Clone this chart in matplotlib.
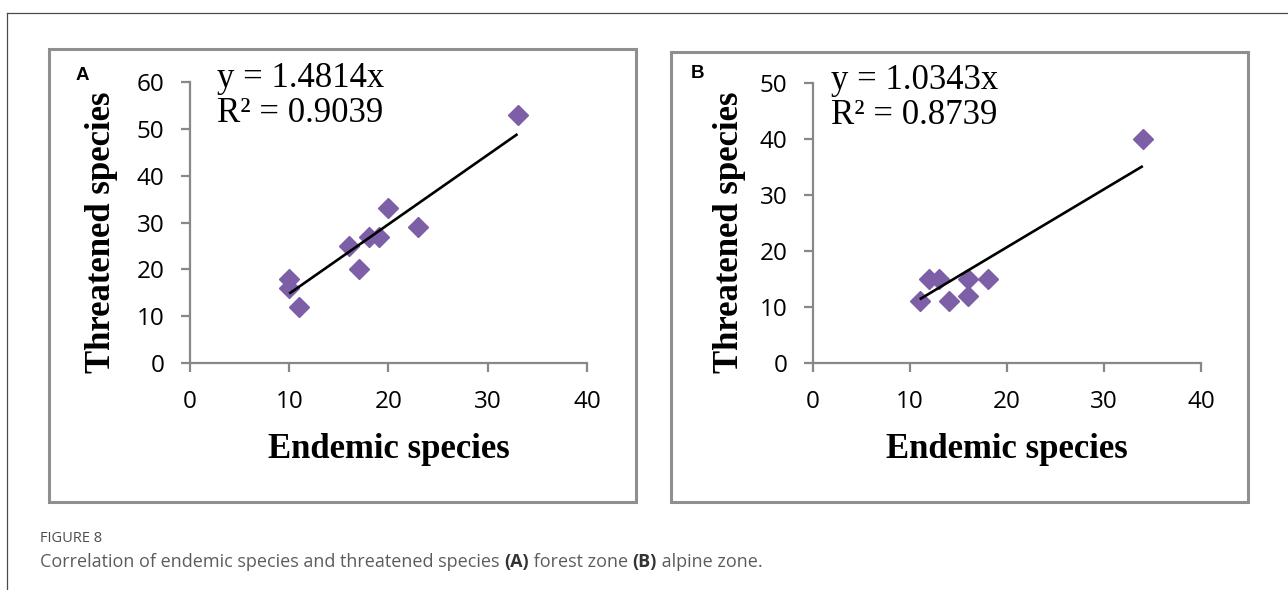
import matplotlib
matplotlib.use("Agg")
import matplotlib.pyplot as plt
from matplotlib.lines import Line2D
from matplotlib.patches import Rectangle

# ---------------------------------------------------------------
# Data
# ---------------------------------------------------------------
# (A) forest zone
forest_endemic = [10, 10, 11, 16, 17, 18, 19, 20, 23, 33]
forest_threatened = [18, 16, 12, 25, 20, 27, 27, 33, 29, 53]
forest_eq = "y = 1.4814x"
forest_r2 = "R² = 0.9039"

# (B) alpine zone
alpine_endemic = [11, 12, 13, 14, 16, 16, 18, 34]
alpine_threatened = [11, 15, 15, 11, 15, 12, 15, 40]
alpine_eq = "y = 1.0343x"
alpine_r2 = "R² = 0.8739"

x_ticks = [0, 10, 20, 30, 40]
forest_y_ticks = [0, 10, 20, 30, 40, 50, 60]
alpine_y_ticks = [0, 10, 20, 30, 40, 50]

x_label = "Endemic species"
y_label = "Threatened species"
fig_title = "FIGURE 8"
caption_parts = [
    ("Correlation of endemic species and threatened species ", "normal"),
    ("(A)", "bold"),
    (" forest zone ", "normal"),
    ("(B)", "bold"),
    (" alpine zone.", "normal"),
]

# ---------------------------------------------------------------
# Layout helpers (pixel -> figure fraction)
# ---------------------------------------------------------------
W, H = 1288, 590
fig = plt.figure(figsize=(W / 100, H / 100), dpi=100)
fig.patch.set_facecolor("white")


def fx(px):
    return px / W


def fy(py):
    return 1 - py / H


MARKER_COLOR = "#7D5FA8"
AXIS_COLOR = "#888888"
BOX_COLOR = "#8f8f8f"
SERIF = "Liberation Serif"
TICK_FONT = "Open Sans"

# journal frame: top rule and left rule
fig.add_artist(Line2D([fx(7), 1.0], [fy(13), fy(13)], color="#4a4a4a", lw=0.9,
                      transform=fig.transFigure))
fig.add_artist(Line2D([fx(7), fx(7)], [fy(13), 0.0], color="#4a4a4a", lw=0.9,
                      transform=fig.transFigure))


def panel_box(x0, y0, x1, y1):
    fig.add_artist(Rectangle((fx(x0), fy(y1)), fx(x1) - fx(x0), fy(y0) - fy(y1),
                             transform=fig.transFigure, fill=False,
                             edgecolor=BOX_COLOR, lw=2.2))


def draw_panel(ax_px, xs, ys, y_ticks, eq, r2, letter, box, letter_xy, eq_xy, ylab_x):
    x0, y0, x1, y1 = ax_px  # left, top, right, bottom in pixels
    panel_box(*box)
    ax = fig.add_axes([fx(x0), fy(y1), fx(x1) - fx(x0), fy(y0) - fy(y1)])
    ax.set_facecolor("none")

    # fitted line through the origin (least squares, zero intercept)
    slope = sum(a * b for a, b in zip(xs, ys)) / sum(a * a for a in xs)
    lx = [min(xs), max(xs)]
    ly = [slope * v for v in lx]

    ax.plot(xs, ys, linestyle="none", marker="D", markersize=10.5,
            color=MARKER_COLOR, markeredgecolor=MARKER_COLOR, zorder=3, clip_on=False)
    ax.plot(lx, ly, color="black", lw=1.9, zorder=4, solid_capstyle="butt")

    ax.set_xlim(x_ticks[0], x_ticks[-1])
    ax.set_ylim(y_ticks[0], y_ticks[-1])
    ax.set_xticks(x_ticks)
    ax.set_yticks(y_ticks)
    for side in ("top", "right"):
        ax.spines[side].set_visible(False)
    for side in ("left", "bottom"):
        ax.spines[side].set_color(AXIS_COLOR)
        ax.spines[side].set_linewidth(1.6)
    ax.tick_params(axis="both", direction="out", length=6.5, width=1.6,
                   color=AXIS_COLOR, labelcolor="black", labelsize=17.5)
    ax.tick_params(axis="y", pad=12)
    ax.tick_params(axis="x", pad=13)
    for lab in ax.get_xticklabels() + ax.get_yticklabels():
        lab.set_fontfamily(TICK_FONT)

    # axis titles
    fig.text(fx((x0 + x1) / 2), fy(458), x_label, ha="center", va="baseline",
             fontsize=25, fontweight="bold", family=SERIF)
    fig.text(fx(ylab_x), fy(232), y_label, ha="center", va="center", rotation=90,
             fontsize=25, fontweight="bold", family=SERIF)

    # equation and R²
    ex, ey = eq_xy
    fig.text(fx(ex), fy(ey), eq, ha="left", va="baseline", fontsize=25, family=SERIF)
    fig.text(fx(ex), fy(ey + 35), r2, ha="left", va="baseline", fontsize=25, family=SERIF)

    # panel letter
    fig.text(fx(letter_xy[0]), fy(letter_xy[1]), letter, ha="center", va="center",
             fontsize=13.5, fontweight="bold", family="Liberation Sans")
    return ax


draw_panel((190, 82, 587, 363), forest_endemic, forest_threatened, forest_y_ticks,
           forest_eq, forest_r2, "A", (49, 49, 636, 502), (82, 75), (217, 87), 101)
draw_panel((813, 83, 1201, 363), alpine_endemic, alpine_threatened, alpine_y_ticks,
           alpine_eq, alpine_r2, "B", (671, 52, 1248, 502), (697, 74), (831, 89), 729)

# caption
fig.text(fx(40), fy(539), fig_title, ha="left", va="center", fontsize=10.5,
         family="Open Sans", color="#4d4d4d")

renderer = fig.canvas.get_renderer()
cx = fx(40)
for txt, weight in caption_parts:
    t = fig.text(cx, fy(562), txt, ha="left", va="center", fontsize=13,
                 family="Open Sans", color="#5c5c5c" if weight == "normal" else "#333333",
                 fontweight=weight)
    bb = t.get_window_extent(renderer=renderer)
    cx += bb.width / W

fig.savefig("out.png", dpi=100, facecolor="white")
